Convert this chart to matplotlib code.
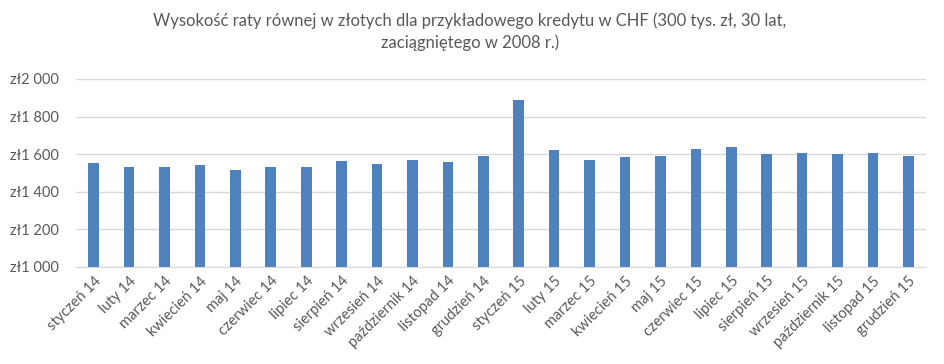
import matplotlib.pyplot as plt
import matplotlib.ticker as mticker

plt.rcParams['font.family'] = ['Lato', 'DejaVu Sans']

miesiace = ['styczeń', 'luty', 'marzec', 'kwiecień', 'maj', 'czerwiec', 'lipiec',
            'sierpień', 'wrzesień', 'październik', 'listopad', 'grudzień']
etykiety = [f'{m} 14' for m in miesiace] + [f'{m} 15' for m in miesiace]

raty = [1555, 1534, 1530, 1543, 1518, 1530, 1534, 1564, 1550, 1569, 1560, 1592,
        1887, 1624, 1569, 1585, 1589, 1628, 1640, 1601, 1608, 1601, 1608, 1592]

tytul = "Wysokość raty równej w złotych dla przykładowego kredytu w CHF (300 tys. zł, 30 lat,\nzaciągniętego w 2008 r.)"

fig = plt.figure(figsize=(9.45, 3.64), dpi=100)
ax = fig.add_axes([0.0804, 0.2665, 0.8996, 0.5165])

x = range(len(raty))
ax.bar(x, raty, width=0.3, color='#4F81BD', zorder=3)

ax.set_ylim(1000, 2000)
ax.set_xlim(-0.5, len(raty) - 0.5)
ax.yaxis.set_major_locator(mticker.MultipleLocator(200))
ax.yaxis.set_major_formatter(mticker.FuncFormatter(
    lambda v, p: 'zł' + f'{int(v):,}'.replace(',', ' ')))
ax.grid(axis='y', color='#D9D9D9', linewidth=1, zorder=0)

for s in ['top', 'right', 'left']:
    ax.spines[s].set_visible(False)
ax.spines['bottom'].set_color('#D9D9D9')
ax.spines['bottom'].set_zorder(4)

ax.set_xticks(list(x))
ax.set_xticklabels(etykiety, rotation=45, ha='right', rotation_mode='anchor')
ax.tick_params(axis='both', length=0, colors='#595959', labelsize=10.5)
ax.tick_params(axis='x', pad=5)
ax.tick_params(axis='y', pad=12)

fig.text(0.497, 0.965, tytul, ha='center', va='top', fontsize=12,
         color='#595959', linespacing=1.4)

fig.savefig('out.png', dpi=100)
